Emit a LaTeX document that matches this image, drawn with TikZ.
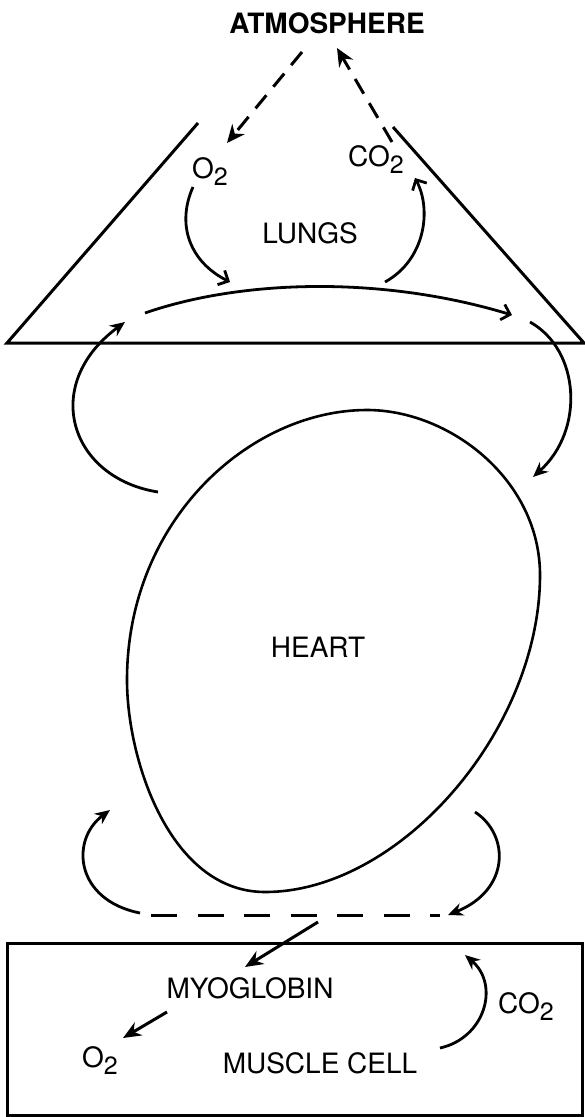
\documentclass[tikz,border=0pt]{standalone}
\usepackage{fontspec}
\setmainfont{TeX Gyre Heros}
\usetikzlibrary{arrows.meta}
\newcommand\subtwo{\raisebox{-0.25em}{\fontsize{25}{25}\selectfont 2}}
\begin{document}
\begin{tikzpicture}[x=1pt,y=-1pt,
  lbl/.style={font=\fontsize{28}{30}\selectfont, inner sep=0pt, anchor=base},
  frame/.style={line width=3pt, line join=miter},
  heartline/.style={line width=2.6pt},
  arr/.style={line width=2.8pt, -{Stealth[length=15pt,width=13pt]}},
  bigarr/.style={line width=3pt, -{Stealth[length=18pt,width=15pt]}},
  barb/.style={line width=2.8pt, -{Straight Barb[length=8pt,width=16pt,line width=2.8pt]}},
  gasdash/.style={line width=3pt, dash pattern=on 17pt off 11pt, -{Stealth[length=18pt,width=16pt]}},
  flowdash/.style={line width=3pt, dash pattern=on 26pt off 20.5pt}]
\useasboundingbox (0,0) rectangle (585,1117);

% text
\node[lbl, font=\fontsize{28}{30}\selectfont\bfseries] (atm) at (327,33) {ATMOSPHERE};
\node[lbl, anchor=base west] (o2top) at (192,178) {O\subtwo};
\node[lbl, anchor=base west] (co2top) at (348,166) {CO\subtwo};
\node[lbl] (lungs) at (310,243) {LUNGS};
\node[lbl] (heartlbl) at (318,657) {HEART};
\node[lbl] (myo) at (250,998) {MYOGLOBIN};
\node[lbl] (cell) at (320,1073) {MUSCLE CELL};
\node[lbl, anchor=base west] (o2bot) at (82,1067) {O\subtwo};
\node[lbl, anchor=base west] (co2bot) at (498,1013) {CO\subtwo};

% lungs triangle
\coordinate (tl) at (198,123);
\coordinate (bl) at (7,343);
\coordinate (br) at (584,343);
\coordinate (tr) at (393,127);
\draw[frame] (tl) -- (bl) -- (br) -- (tr);

% muscle cell box
\coordinate (boxa) at (7,943);
\coordinate (boxb) at (582,1115);
\draw[frame] (boxa) rectangle (boxb);

% heart
\coordinate (htop) at (367,410);
\coordinate (hright) at (540,575);
\coordinate (hbot) at (265,892);
\coordinate (hleft) at (127,680);
\draw[heartline] (htop) .. controls (450,410) and (540,480) .. (hright)
  .. controls (540,730) and (400,892) .. (hbot)
  .. controls (170,892) and (127,760) .. (hleft)
  .. controls (127,520) and (250,410) .. (htop) -- cycle;

% gas exchange with atmosphere
\coordinate (atmO) at (302,52);
\coordinate (o2in) at (227,143);
\coordinate (co2out) at (392,142);
\coordinate (atmC) at (337,48);
\draw[gasdash] (atmO) -- (o2in);
\draw[gasdash] (co2out) -- (atmC);

% lungs arrows
\coordinate (o2s) at (193,187);
\coordinate (o2e) at (230,282);
\draw[barb] (o2s) .. controls (176,225) and (190,262) .. (o2e);
\coordinate (co2s) at (385,282);
\coordinate (co2e) at (415,178);
\draw[barb] (co2s) .. controls (425,260) and (432,210) .. (co2e);
\coordinate (arcs) at (145,313);
\coordinate (arce) at (512,315);
\draw[barb] (arcs) .. controls (240,280) and (380,275) .. (arce);

% circulation around the heart
\coordinate (lus) at (158,492);
\coordinate (lue) at (125,322);
\draw[arr] (lus) .. controls (70,478) and (40,385) .. (lue);
\coordinate (rus) at (530,322);
\coordinate (rue) at (533,477);
\draw[arr] (rus) .. controls (580,350) and (585,430) .. (rue);
\coordinate (lls) at (140,913);
\coordinate (lle) at (110,810);
\draw[arr] (lls) .. controls (75,900) and (70,840) .. (lle);
\coordinate (rls) at (475,812);
\coordinate (rle) at (448,915);
\draw[arr] (rls) .. controls (510,835) and (510,890) .. (rle);
\coordinate (ds) at (151,915);
\coordinate (de) at (440,915);
\draw[flowdash] (ds) -- (de);

% muscle cell arrows
\coordinate (myos) at (318,922);
\coordinate (myoe) at (245,967);
\draw[bigarr] (myos) -- (myoe);
\coordinate (o2bs) at (167,1012);
\coordinate (o2be) at (123,1038);
\draw[bigarr] (o2bs) -- (o2be);
\coordinate (co2bs) at (440,1048);
\coordinate (co2be) at (465,955);
\draw[arr] (co2bs) .. controls (485,1038) and (500,985) .. (co2be);
\end{tikzpicture}
\end{document}
